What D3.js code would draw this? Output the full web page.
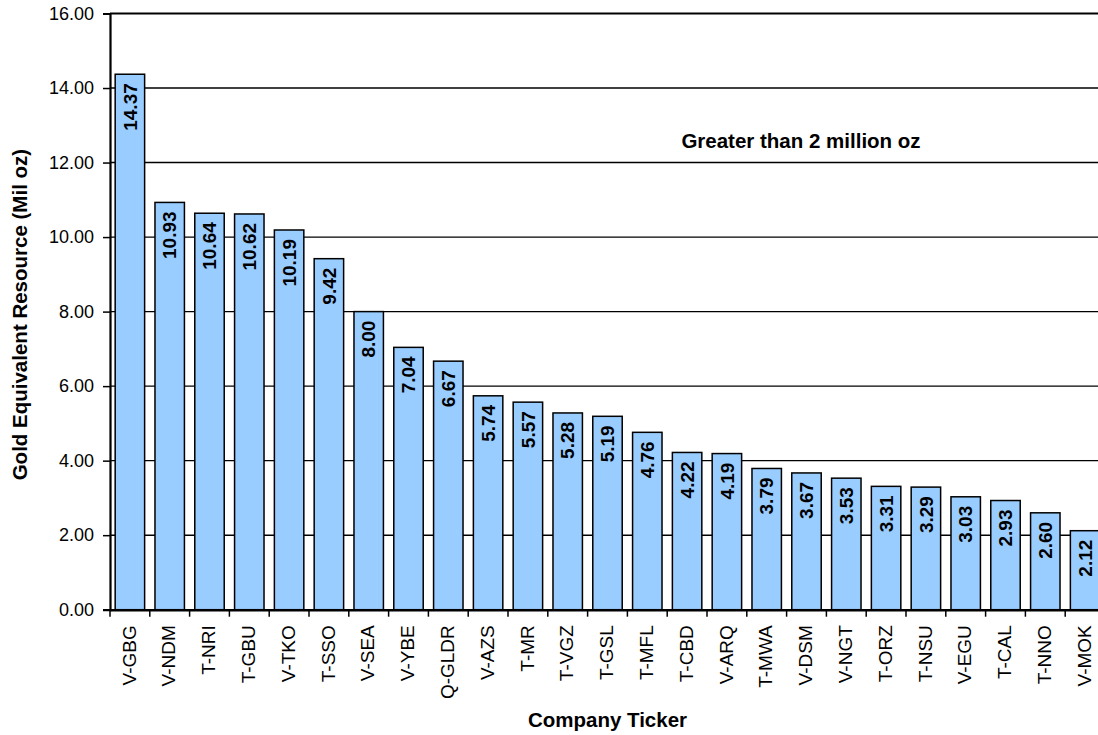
<!DOCTYPE html>
<html>
<head>
<meta charset="utf-8">
<script src="https://d3js.org/d3.v7.min.js"></script>
<style>
  html, body { margin: 0; padding: 0; background: #fff; }
  svg { display: block; font-family: "Liberation Sans", Arial, sans-serif; }
</style>
</head>
<body>
<svg id="chart" width="1098" height="735"></svg>
<script>
const tickers = ["V-GBG","V-NDM","T-NRI","T-GBU","V-TKO","T-SSO","V-SEA","V-YBE","Q-GLDR","V-AZS","T-MR","T-VGZ","T-GSL","T-MFL","T-CBD","V-ARQ","T-MWA","V-DSM","V-NGT","T-ORZ","T-NSU","V-EGU","T-CAL","T-NNO","V-MOK"];
const resources = [14.37,10.93,10.64,10.62,10.19,9.42,8.00,7.04,6.67,5.74,5.57,5.28,5.19,4.76,4.22,4.19,3.79,3.67,3.53,3.31,3.29,3.03,2.93,2.60,2.12];
const yTicks = [0,2,4,6,8,10,12,14,16];
const yTitle = "Gold Equivalent Resource (Mil oz)";
const xTitle = "Company Ticker";
const note = "Greater than 2 million oz";

const svg = d3.select("#chart");
const pLeft = 110, pTop = 13.5, pBottom = 609.7, bandW = 39.8;
const pRight = pLeft + bandW * tickers.length;

const x = d3.scaleBand().domain(tickers).range([pLeft, pRight]).paddingInner(0.26).paddingOuter(0.13);
const y = d3.scaleLinear().domain([0, 16]).range([pBottom, pTop]);

// gridlines
svg.append("g").selectAll("line").data(yTicks.filter(t => t > 0 && t < 16)).join("line")
  .attr("x1", pLeft).attr("x2", pRight)
  .attr("y1", d => y(d)).attr("y2", d => y(d))
  .attr("stroke", "#000").attr("stroke-width", 1.4);

// top border
svg.append("line").attr("x1", pLeft).attr("x2", pRight).attr("y1", y(16)).attr("y2", y(16))
  .attr("stroke", "#000").attr("stroke-width", 2);

// bars
const data = tickers.map((t, i) => ({t, v: resources[i]}));
svg.append("g").selectAll("rect").data(data).join("rect")
  .attr("x", d => x(d.t)).attr("width", x.bandwidth())
  .attr("y", d => y(d.v)).attr("height", d => y(0) - y(d.v))
  .attr("fill", "#99CCFF").attr("stroke", "#000").attr("stroke-width", 1.5);

// value labels
svg.append("g").selectAll("text").data(data).join("text")
  .attr("transform", d => `translate(${x(d.t) + x.bandwidth() / 2},${y(d.v) + 9}) rotate(-90)`)
  .attr("text-anchor", "end").attr("dy", "0.35em")
  .attr("font-size", 19).attr("font-weight", "bold").attr("fill", "#000")
  .text(d => d.v.toFixed(2));

// y axis
const yAxis = d3.axisLeft(y).tickValues(yTicks).tickFormat(d3.format(".2f")).tickSize(7).tickPadding(9);
const gy = svg.append("g").attr("transform", `translate(${pLeft},0)`).call(yAxis);
gy.select(".domain").attr("stroke-width", 2.2);
gy.selectAll(".tick line").attr("stroke-width", 1.5);
gy.selectAll(".tick text").attr("font-size", 18).attr("font-family", "Liberation Sans, Arial, sans-serif").attr("fill", "#000");

// x axis
const xAxis = d3.axisBottom(x).tickSize(0).tickSizeOuter(0);
const gx = svg.append("g").attr("transform", `translate(0,${pBottom})`).call(xAxis);
gx.select(".domain").attr("stroke-width", 2.5);
gx.selectAll(".tick text")
  .attr("font-size", 19).attr("font-family", "Liberation Sans, Arial, sans-serif").attr("fill", "#000")
  .attr("transform", "translate(-1,15.5) rotate(-90)")
  .attr("text-anchor", "end").attr("x", 0).attr("y", 0).attr("dy", "0.35em");
// boundary tick marks
svg.append("g").selectAll("line").data(d3.range(tickers.length + 1)).join("line")
  .attr("x1", i => pLeft + i * x.step()).attr("x2", i => pLeft + i * x.step())
  .attr("y1", pBottom).attr("y2", pBottom + 7)
  .attr("stroke", "#000").attr("stroke-width", 1.5);

// titles
svg.append("text")
  .attr("transform", `translate(27,${(pTop + pBottom) / 2 + 3}) rotate(-90)`)
  .attr("text-anchor", "middle").attr("font-size", 20.5).attr("font-weight", "bold")
  .text(yTitle);
svg.append("text")
  .attr("x", 607.5).attr("y", 727)
  .attr("text-anchor", "middle").attr("font-size", 20.5).attr("font-weight", "bold")
  .text(xTitle);
svg.append("text")
  .attr("x", 801).attr("y", 148)
  .attr("text-anchor", "middle").attr("font-size", 20.5).attr("font-weight", "bold")
  .text(note);
</script>
</body>
</html>
